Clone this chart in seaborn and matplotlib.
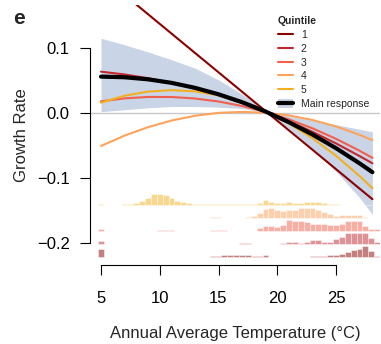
import numpy as np
import pandas as pd
import seaborn as sns
import matplotlib.pyplot as plt
from matplotlib.lines import Line2D
from matplotlib.patches import Patch

# response curves at these temperatures (deg C)
temp = [5, 7, 9, 11, 13, 15, 17, 19, 21, 23, 25, 27, 28.1]

main_resp = [0.0560, 0.0550, 0.0518, 0.0464, 0.0387, 0.0288, 0.0167, 0.0023,
             -0.0142, -0.0331, -0.0541, -0.0774, -0.0911]
ci_upper = [0.115, 0.105, 0.094, 0.082, 0.069, 0.051, 0.029, 0.004,
            -0.005, -0.011, -0.018, -0.025, -0.029]
ci_lower = [0.002, 0.005, 0.008, 0.010, 0.010, 0.009, 0.007, 0.001,
            -0.024, -0.055, -0.090, -0.130, -0.156]

q1 = [0.2116, 0.1818, 0.1520, 0.1222, 0.0924, 0.0626, 0.0328, 0.0030,
      -0.0268, -0.0566, -0.0864, -0.1162, -0.1326]
q2 = [0.0636, 0.0593, 0.0536, 0.0463, 0.0375, 0.0272, 0.0154, 0.0021,
      -0.0127, -0.0290, -0.0468, -0.0662, -0.0774]
q3 = [0.0180, 0.0225, 0.0247, 0.0246, 0.0223, 0.0177, 0.0108, 0.0016,
      -0.0099, -0.0236, -0.0397, -0.0580, -0.0690]
q4 = [-0.0508, -0.0348, -0.0218, -0.0116, -0.0043, 0.0002, 0.0017, 0.0004,
      -0.0037, -0.0108, -0.0207, -0.0335, -0.0418]
q5 = [0.0159, 0.0265, 0.0329, 0.0352, 0.0333, 0.0272, 0.0169, 0.0025,
      -0.0161, -0.0388, -0.0658, -0.0969, -0.1158]

# temperature distribution of each quintile, 0.5 deg bins from 5 to 28.5
bin_centres = np.arange(5, 28.75, 0.5)
hist_q5 = [1, 0, 0.3, 0.5, 1, 1, 2, 4, 7, 11,
           11.5, 10, 7, 4.5, 3, 2.2, 1.7, 1.3, 1.1, 1,
           1, 1, 1, 1, 1, 1, 1, 2, 5, 3,
           2, 2, 3, 2.5, 2.5, 3, 3, 3, 2.5, 1.5,
           1, 0.5, 0.5, 0.3, 0.3, 0, 0, 0]
hist_q4 = [0] * 19 + [1, 1.5, 0, 0.3, 0.5, 0.5, 1, 2, 5, 9.5,
                      10, 8, 7, 8.5, 8.5, 10.5, 10.5, 10, 8, 6.5,
                      4, 2, 3, 3.5, 3.5, 3, 1, 0.5, 0]
hist_q3 = [2.7, 0, 0, 0, 0, 0, 0, 0, 0.5, 0.5,
           1, 1.5, 1.5, 0.5, 0, 0, 0, 0, 0,
           1, 1.5, 1, 0.5, 0.5, 0.5, 0.5, 0.7, 3, 5,
           5, 4.5, 6.5, 11, 10.5, 10, 9, 7.5, 7.5, 7.5,
           6, 6, 7.5, 10.5, 10.5, 10.5, 5.5, 2.3, 2.3]
hist_q2 = [3.5] + [0] * 18 + [0.3, 0.5, 0.5, 0.5, 0.5, 1, 1, 0.5, 0.5, 0.5,
                              0.5, 0.7, 1.7, 2.8, 2.2, 1.8, 2.7, 4.3, 4.3, 2,
                              2.7, 5, 7.7, 11, 11, 11, 11, 6, 2.7]
hist_q1 = [8.3] + [0] * 14 + [0.3, 0.3, 0.5, 0.7,
                              1, 1.3, 2, 2, 2.2, 2.2, 2, 1.8, 1.8, 2.2,
                              0.7, 0.5, 0.3, 0.3, 0.3, 0.4, 0.5, 1.7, 1.7, 1,
                              2, 2.3, 3.3, 5, 7, 8.5, 11, 6, 1.7]

quintile_labels = ['1', '2', '3', '4', '5']
xticks = [5, 10, 15, 20, 25]
yticks = [-0.2, -0.1, 0.0, 0.1]
ytick_labels = ['\u22120.2', '\u22120.1', '0.0', '0.1']

# styling
q_colors = ['#8B0000', '#C1272D', '#F0604D', '#FDA35C', '#F2B01E']
band_color = '#CAD4E7'
hist_base = {'5': -0.142, '4': -0.162, '3': -0.182, '2': -0.202, '1': -0.222}
hist_scale = 1 / 650

sns.set_style('ticks')
plt.rcParams['font.family'] = ['Liberation Sans', 'DejaVu Sans']

fig, ax = plt.subplots(figsize=(3.81, 3.44), dpi=100)
fig.subplots_adjust(left=90 / 381, right=380 / 381,
                    bottom=1 - 265 / 344, top=1 - 5 / 344)

# confidence band and zero line
ax.fill_between(temp, ci_lower, ci_upper, color=band_color, lw=0, zorder=1)
ax.axhline(0, color='#C8C8C8', lw=1.0, zorder=1.5)

# histograms under the curves
hists = {'1': hist_q1, '2': hist_q2, '3': hist_q3, '4': hist_q4, '5': hist_q5}
for lab, col in zip(quintile_labels, q_colors):
    h = np.array(hists[lab]) * hist_scale
    ax.bar(bin_centres, h, width=0.5, bottom=hist_base[lab], color=col,
           alpha=0.5, edgecolor='white', linewidth=0.6, zorder=2)

# response lines
curves = {'1': q1, '2': q2, '3': q3, '4': q4, '5': q5}
for lab, col in zip(quintile_labels, q_colors):
    sns.lineplot(x=temp, y=curves[lab], color=col, linewidth=1.5, ax=ax,
                 zorder=3, legend=False)
sns.lineplot(x=temp, y=main_resp, color='black', linewidth=3, ax=ax,
             zorder=4, legend=False)

ax.set_xlim(5 - 11 / 11.75, 5 + 279 / 11.75)
ax.set_ylim(-152 / 650, 108 / 650)

sns.despine(ax=ax)
ax.spines['left'].set_bounds(-0.2, 0.1)
ax.spines['bottom'].set_bounds(5, 25)
for s in ['left', 'bottom']:
    ax.spines[s].set_linewidth(0.8)
    ax.spines[s].set_color('black')

ax.set_xticks(xticks)
ax.set_yticks(yticks)
ax.set_yticklabels(ytick_labels)
ax.tick_params(axis='both', direction='out', length=7.5, width=0.8,
               labelsize=12, color='black', labelcolor='black',
               bottom=True, left=True)
ax.tick_params(axis='x', pad=11)
ax.tick_params(axis='y', pad=7)

ax.set_xlabel('Annual Average Temperature (\u00b0C)', fontsize=12)
ax.set_ylabel('Growth Rate', fontsize=12)
ax.xaxis.set_label_coords(0.5, -0.235)
ax.yaxis.set_label_coords(-0.212, 0.5)

fig.text(13 / 381, 1 - 24 / 344, 'e', fontsize=15, fontweight='bold',
         ha='left', va='baseline')

handles = [Line2D([], [], color=c, lw=1.5) for c in q_colors]
handles.append((Patch(facecolor=band_color, edgecolor='none'),
                Line2D([], [], color='black', lw=3)))
ax.legend(handles, quintile_labels + ['Main response'], title='Quintile',
          loc='upper left', bbox_to_anchor=((278 - 90) / 290, (265 - 16) / 260),
          frameon=False, fontsize=7.5,
          title_fontproperties={'weight': 'bold', 'size': 7.5},
          handlelength=1.45, handletextpad=0.75, labelspacing=0.37,
          borderpad=0, borderaxespad=0, alignment='left', handleheight=0.9)

plt.savefig('out.png', dpi=100)
